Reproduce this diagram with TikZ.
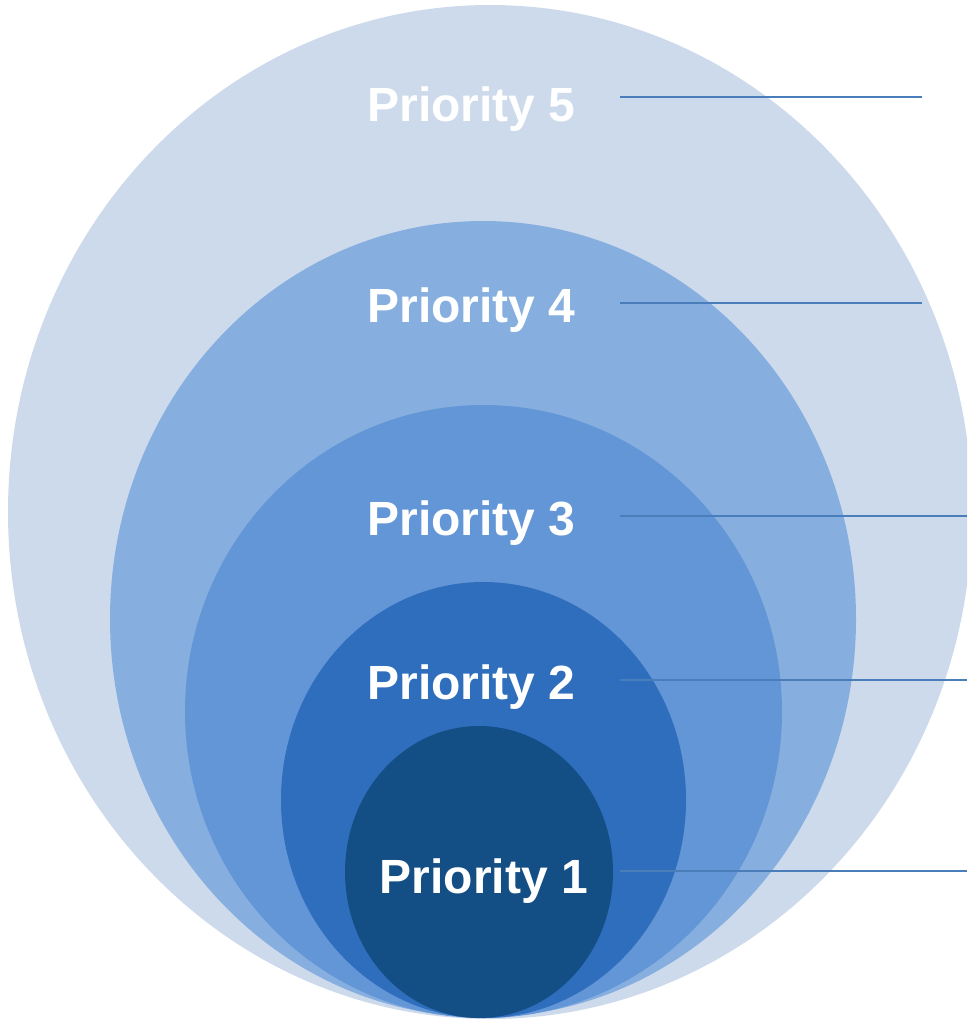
\documentclass[tikz,border=0pt]{standalone}
\usepackage{fontspec}
\setmainfont{Liberation Sans}
\usetikzlibrary{positioning}

\definecolor{ringfive}{HTML}{CDDAEB}
\definecolor{ringfour}{HTML}{86AFE0}
\definecolor{ringthree}{HTML}{6396D6}
\definecolor{ringtwo}{HTML}{2F6EBD}
\definecolor{ringone}{HTML}{134F85}
\definecolor{leadblue}{HTML}{4A7EBB}

\tikzset{
    label/.style={text=white, font=\fontsize{48}{56}\selectfont\bfseries,
                  inner sep=0pt, anchor=base},
    lead/.style={draw=leadblue, line width=2pt}
}

\begin{document}
\begin{tikzpicture}[x=1pt, y=-1pt]
    \useasboundingbox (0,0) rectangle (967,1020);
    \clip (0,0) rectangle (967,1020);
    % Nested rings, largest first
    \fill[ringfive]  (490,512)   ellipse [x radius=482,   y radius=507];
    \fill[ringfour]  (483,619)   ellipse [x radius=373,   y radius=398];
    \fill[ringthree] (483.5,711.5) ellipse [x radius=298.5, y radius=306.5];
    \fill[ringtwo]   (483.5,800) ellipse [x radius=202.5, y radius=218];
    \fill[ringone]   (479,872)   ellipse [x radius=134,   y radius=146];
    % Labels
    \node[label] (p5) at (471.5,121) {Priority 5};
    \node[label] (p4) at (471.5,322) {Priority 4};
    \node[label] (p3) at (471.5,535) {Priority 3};
    \node[label] (p2) at (471.5,699) {Priority 2};
    \node[label] (p1) at (484,893)   {Priority 1};
    % Leader lines
    \coordinate (s5) at (620,97);  \coordinate (e5) at (922,97);
    \coordinate (s4) at (620,303); \coordinate (e4) at (922,303);
    \coordinate (s3) at (620,516); \coordinate (e3) at (967,516);
    \coordinate (s2) at (620,680); \coordinate (e2) at (967,680);
    \coordinate (s1) at (620,871); \coordinate (e1) at (967,871);
    \draw[lead] (s5) -- (e5);
    \draw[lead] (s4) -- (e4);
    \draw[lead] (s3) -- (e3);
    \draw[lead] (s2) -- (e2);
    \draw[lead] (s1) -- (e1);
\end{tikzpicture}
\end{document}
